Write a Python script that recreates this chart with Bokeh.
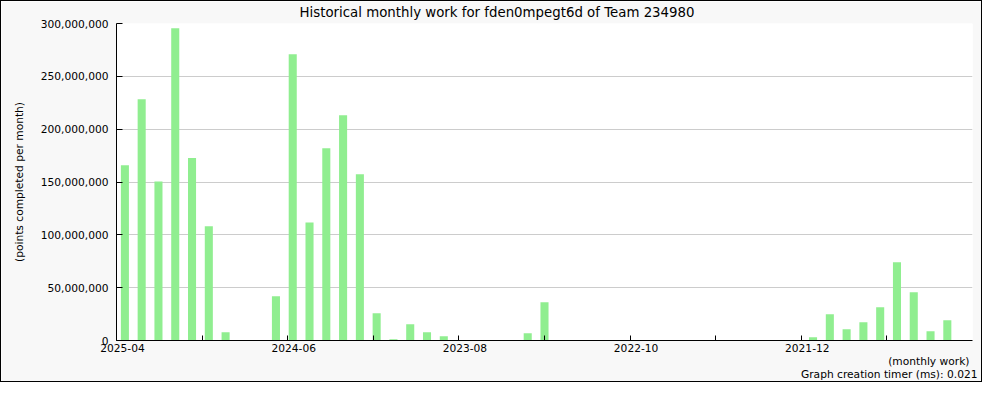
from bokeh.plotting import figure
from bokeh.models import (ColumnDataSource, FixedTicker, NumeralTickFormatter,
                          LinearAxis, Range1d, Title)
from bokeh.embed import file_html
from bokeh.resources import INLINE

# ---------------- data ----------------
months = [
    "2025-04", "2025-03", "2025-02", "2025-01", "2024-12", "2024-11", "2024-10",
    "2024-09", "2024-08", "2024-07", "2024-06", "2024-05", "2024-04", "2024-03",
    "2024-02", "2024-01", "2023-12", "2023-11", "2023-10", "2023-09", "2023-08",
    "2023-07", "2023-06", "2023-05", "2023-04", "2023-03", "2023-02", "2023-01",
    "2022-12", "2022-11", "2022-10", "2022-09", "2022-08", "2022-07", "2022-06",
    "2022-05", "2022-04", "2022-03", "2022-02", "2022-01", "2021-12", "2021-11",
    "2021-10", "2021-09", "2021-08", "2021-07", "2021-06", "2021-05", "2021-04",
    "2021-03", "2021-02",
]
points = [
    165900000, 228300000, 150500000, 295500000, 172800000, 108200000, 7900000,
    0, 0, 41900000, 270900000, 111600000, 182000000, 213200000,
    157400000, 25800000, 1200000, 15400000, 7900000, 4000000, 0,
    0, 0, 0, 6900000, 36200000, 0, 0,
    0, 0, 0, 0, 0, 0, 0,
    0, 0, 0, 0, 0, 0, 3100000,
    24900000, 10700000, 17300000, 31500000, 74100000, 45700000, 8800000,
    19200000, 0,
]
y_ticks = [0, 50000000, 100000000, 150000000, 200000000, 250000000, 300000000]
x_tick_labels = ["2025-04", "2024-06", "2023-08", "2022-10", "2021-12"]

title_text = "Historical monthly work for fden0mpegt6d of Team 234980"
y_label = "(points completed per month)"
x_label = "(monthly work)"
footer = "Graph creation timer (ms): 0.021"

FONT = "DejaVu Sans"

src = ColumnDataSource(dict(
    x=[i + 0.5 for i in range(len(months))],
    month=months,
    points=points,
))

p = figure(
    width=982, height=382,
    x_range=Range1d(0, len(months)), y_range=Range1d(0, 300000000),
    x_axis_type=None,
    output_backend="svg", toolbar_location=None,
    min_border_left=115, min_border_right=11,
    min_border_top=22, min_border_bottom=43,
)
p.styles = {"border": "1px solid #000000"}
p.border_fill_color = "#f8f8f8"
p.background_fill_color = "#ffffff"
p.outline_line_color = None

p.vbar(x="x", top="points", width=0.48, source=src,
       fill_color="#90EE90", line_color=None)

# title
p.title.text = title_text
p.title.text_font = FONT
p.title.text_font_size = "10pt"
p.title.text_font_style = "normal"
p.title.text_color = "#000000"
p.title.align = "left"
p.title.vertical_align = "top"
p.title.offset = 183
p.title.standoff = 3

# y axis
yax = p.yaxis[0]
yax.ticker = FixedTicker(ticks=y_ticks)
yax.formatter = NumeralTickFormatter(format="0,0")
yax.major_tick_in = 6
yax.major_tick_out = 0
yax.minor_tick_line_color = None
yax.axis_line_color = "#000000"
yax.major_tick_line_color = "#000000"
yax.major_label_text_font = FONT
yax.major_label_text_font_size = "8pt"
yax.major_label_text_color = "#000000"
yax.major_label_standoff = 8
yax.axis_label = y_label
yax.axis_label_text_font = FONT
yax.axis_label_text_font_size = "8pt"
yax.axis_label_text_font_style = "normal"
yax.axis_label_text_color = "#000000"
yax.axis_label_standoff = 12

p.ygrid.grid_line_color = "#cccccc"
p.xgrid.grid_line_color = None

# x axis: linear tick scale over 50 months, as in the original
n_scale = len(months) - 1
p.extra_x_ranges = {
    "scale": Range1d(0, n_scale),
    # labels sit slightly right of their ticks in the original
    "labels": Range1d(-0.35, n_scale - 0.35),
}
tick_pos = list(range(0, n_scale, 5))
label_pos = [t for t in tick_pos if months[t] in x_tick_labels]

tick_axis = LinearAxis(x_range_name="scale", ticker=FixedTicker(ticks=tick_pos),
                       major_label_overrides={t: "" for t in tick_pos})
tick_axis.major_tick_in = 5
tick_axis.major_tick_out = 0
tick_axis.minor_tick_line_color = None
tick_axis.axis_line_color = "#000000"
tick_axis.major_tick_line_color = "#000000"
tick_axis.major_label_text_font_size = "0px"
tick_axis.major_label_standoff = 0
p.add_layout(tick_axis, "below")

label_axis = LinearAxis(x_range_name="labels", ticker=FixedTicker(ticks=label_pos),
                        major_label_overrides={t: months[t] for t in label_pos})
label_axis.major_tick_in = 0
label_axis.major_tick_out = 0
label_axis.minor_tick_line_color = None
label_axis.axis_line_color = None
label_axis.major_tick_line_color = None
label_axis.major_label_text_font = FONT
label_axis.major_label_text_font_size = "8pt"
label_axis.major_label_text_color = "#000000"
label_axis.major_label_standoff = 3
p.add_layout(label_axis, "below")

p.add_layout(Title(text=x_label, align="right", offset=3, standoff=-3,
                   text_font=FONT, text_font_size="8pt",
                   text_font_style="normal", text_color="#000000"), "below")
p.add_layout(Title(text=footer, align="right", offset=-5, standoff=-2,
                   text_font=FONT, text_font_size="8pt",
                   text_font_style="normal", text_color="#000000"), "below")

open("out.html", "w").write(file_html(p, INLINE))
